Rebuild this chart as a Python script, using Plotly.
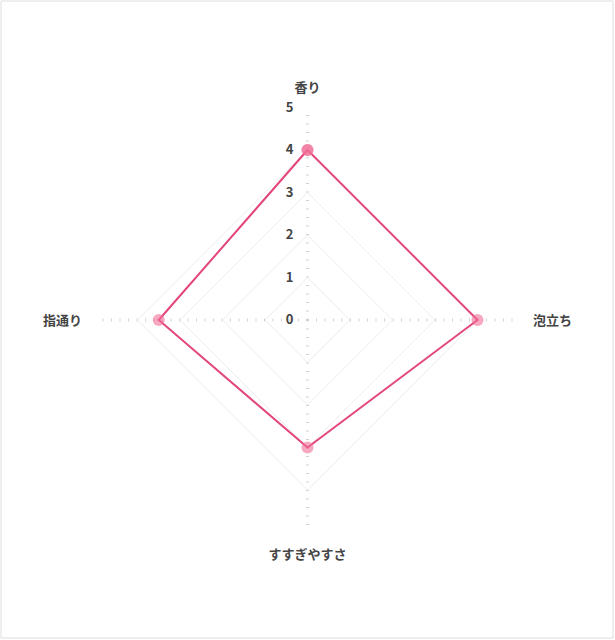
import plotly.graph_objects as go

categories = ["香り", "泡立ち", "すすぎやすさ", "指通り"]
values = [4, 4, 3, 3.5]
radial_ticks = [0, 1, 2, 3, 4, 5]

W, H = 615, 640
ML, MR, MT, MB = 95, 95, 107, 107
pw, ph = W - ML - MR, H - MT - MB

fig = go.Figure()
fig.add_trace(go.Scatterpolar(
    r=values + [values[0]],
    theta=categories + [categories[0]],
    mode="lines+markers",
    line=dict(color="#e3467c", width=2),
    marker=dict(size=12, color="rgba(240,110,150,0.6)"),
    hoverinfo="skip",
    showlegend=False,
))

fig.update_layout(
    width=W, height=H,
    margin=dict(l=ML, r=MR, t=MT, b=MB),
    paper_bgcolor="white",
    plot_bgcolor="white",
    font=dict(family="Noto Sans CJK JP, Noto Sans, sans-serif", color="#444"),
    polar=dict(
        bgcolor="white",
        gridshape="linear",
        radialaxis=dict(
            range=[0, 5],
            tickvals=radial_ticks,
            ticktext=[str(t) for t in radial_ticks],
            angle=90,
            tickangle=90,
            side="counterclockwise",
            showline=False,
            ticks="outside",
            ticklen=9,
            tickcolor="rgba(0,0,0,0)",
            tickfont=dict(size=13, color="#444", family="Noto Sans CJK JP", weight="bold"),
            gridcolor="#ececec",
            gridwidth=1,
        ),
        angularaxis=dict(
            rotation=90,
            direction="clockwise",
            showline=False,
            ticks="outside",
            ticklen=10,
            tickcolor="rgba(0,0,0,0)",
            gridcolor="#d2d2d2",
            griddash="1px,7.5px",
            gridwidth=3,
            tickfont=dict(size=13, color="#444", family="Noto Sans CJK JP", weight="bold"),
        ),
    ),
    shapes=[dict(
        type="rect", xref="paper", yref="paper",
        x0=(1 - ML) / pw, x1=(W - 2 - ML) / pw,
        y0=-(MB - 2) / ph, y1=1 + (MT - 1) / ph,
        line=dict(color="#dddddd", width=1),
        fillcolor="rgba(0,0,0,0)",
    )],
)

fig.write_html("out.html", config={"displayModeBar": False},
               post_script="document.body.style.margin='0';")
